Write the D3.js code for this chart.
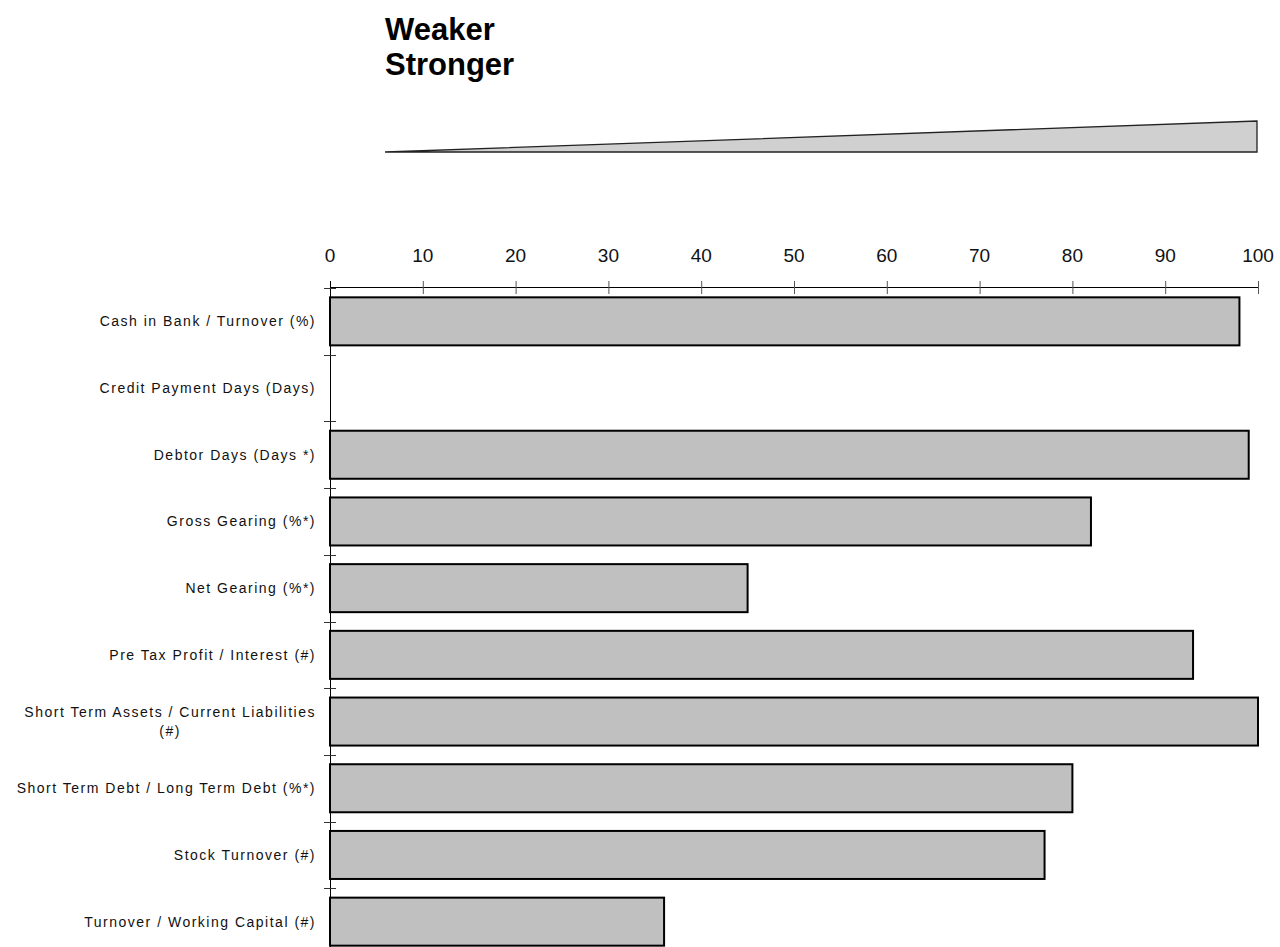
<!DOCTYPE html>
<html>
<head>
<meta charset="utf-8">
<script src="https://cdn.jsdelivr.net/npm/d3@7"></script>
<style>
  html, body { margin: 0; padding: 0; background: #fff; }
  svg { display: block; font-family: Arial, "Liberation Sans", sans-serif; }
</style>
</head>
<body>
<svg id="chart" width="1280" height="947"></svg>
<script>
// Ratio categories (top to bottom) and their scores on a 0-100 scale
const categories = [
  "Cash in Bank / Turnover (%)",
  "Credit Payment Days (Days)",
  "Debtor Days (Days *)",
  "Gross Gearing (%*)",
  "Net Gearing (%*)",
  "Pre Tax Profit / Interest (#)",
  "Short Term Assets / Current Liabilities|(#)",
  "Short Term Debt / Long Term Debt (%*)",
  "Stock Turnover (#)",
  "Turnover / Working Capital (#)"
];
const scores = [98, 0, 99, 82, 45, 93, 100, 80, 77, 36];
const tickValues = [0, 10, 20, 30, 40, 50, 60, 70, 80, 90, 100];
const legendLabels = ["Weaker", "Stronger"];

const svg = d3.select("#chart");

const x = d3.scaleLinear().domain([0, 100]).range([330, 1258]);
const y = d3.scaleBand()
  .domain(categories)
  .range([288, 955])
  .paddingInner(0.28)
  .paddingOuter(0.14);

// Heading
svg.append("g").selectAll("text")
  .data(legendLabels)
  .join("text")
  .attr("x", 385)
  .attr("y", (d, i) => 40 + i * 35)
  .attr("font-size", 31)
  .attr("font-weight", "bold")
  .attr("fill", "#000")
  .text(d => d);

// Wedge indicating weaker -> stronger
const wx = d3.scaleLinear().domain([0, 1]).range([385, 1257]);
const wy = d3.scaleLinear().domain([0, 1]).range([152, 121]);
svg.append("path")
  .attr("d", d3.line()([[wx(0), wy(0)], [wx(1), wy(1)], [wx(1), wy(0)]]) + "Z")
  .attr("fill", "#d0d0d0")
  .attr("stroke", "#222")
  .attr("stroke-width", 1.3);

// Top value axis
const axisTop = svg.append("g");
axisTop.append("line")
  .attr("x1", x(0)).attr("x2", x(100))
  .attr("y1", 287.5).attr("y2", 287.5)
  .attr("stroke", "#000").attr("stroke-width", 1);
axisTop.selectAll("line.tick")
  .data(tickValues)
  .join("line")
  .attr("class", "tick")
  .attr("x1", d => x(d) + 0.5).attr("x2", d => x(d) + 0.5)
  .attr("y1", 281).attr("y2", 294)
  .attr("stroke", "#555").attr("stroke-width", 1);
axisTop.selectAll("text")
  .data(tickValues)
  .join("text")
  .attr("x", d => x(d))
  .attr("y", 262)
  .attr("text-anchor", "middle")
  .attr("font-size", 19)
  .attr("fill", "#111")
  .text(d => d);

// Bars
svg.append("g").selectAll("rect")
  .data(categories.map((c, i) => ({ c, v: scores[i] })).filter(d => d.v > 0))
  .join("rect")
  .attr("x", x(0))
  .attr("y", d => y(d.c))
  .attr("width", d => x(d.v) - x(0))
  .attr("height", y.bandwidth())
  .attr("fill", "#c0c0c0")
  .attr("stroke", "#000")
  .attr("stroke-width", 2);

// Category axis
const axisLeft = svg.append("g");
axisLeft.append("line")
  .attr("x1", 330.5).attr("x2", 330.5)
  .attr("y1", 281).attr("y2", 947)
  .attr("stroke", "#000").attr("stroke-width", 1);
const boundaries = categories.map(c => y(c) - y.step() * y.paddingOuter());
axisLeft.selectAll("line.sep")
  .data(boundaries)
  .join("line")
  .attr("class", "sep")
  .attr("x1", 324).attr("x2", 336)
  .attr("y1", d => Math.round(d) + 0.5).attr("y2", d => Math.round(d) + 0.5)
  .attr("stroke", "#333").attr("stroke-width", 1);

const labelRight = 316;
const fontSize = 14;
const spacing = 1.5;
const labels = axisLeft.selectAll("g.label")
  .data(categories)
  .join("g")
  .attr("class", "label");
labels.each(function (c) {
  const g = d3.select(this);
  const lines = c.split("|");
  const cy = y(c) + y.bandwidth() / 2;
  const lh = 19;
  const first = g.append("text")
    .attr("x", labelRight)
    .attr("y", cy - (lines.length - 1) * lh / 2)
    .attr("dy", "0.35em")
    .attr("text-anchor", "end")
    .attr("font-size", fontSize)
    .attr("letter-spacing", spacing)
    .attr("fill", "#111")
    .text(lines[0]);
  if (lines.length > 1) {
    const w = first.node().getComputedTextLength();
    const center = labelRight - w / 2;
    lines.slice(1).forEach((ln, i) => {
      g.append("text")
        .attr("x", center)
        .attr("y", cy - (lines.length - 1) * lh / 2 + (i + 1) * lh)
        .attr("dy", "0.35em")
        .attr("text-anchor", "middle")
        .attr("font-size", fontSize)
        .attr("letter-spacing", spacing)
        .attr("fill", "#111")
        .text(ln);
    });
  }
});
</script>
</body>
</html>
